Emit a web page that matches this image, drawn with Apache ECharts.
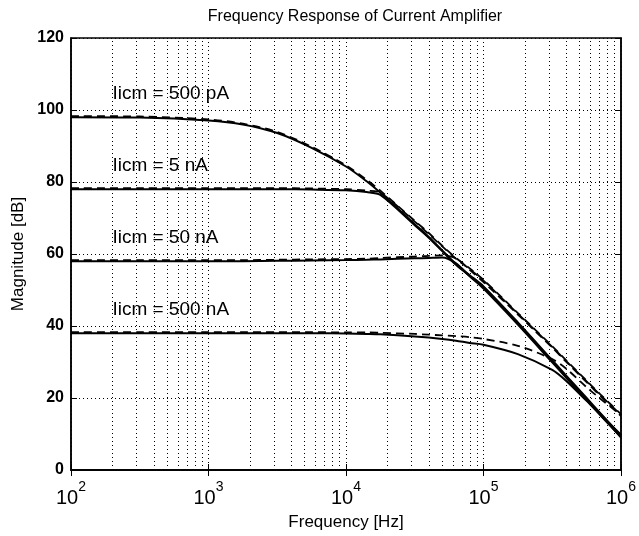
<!DOCTYPE html>
<html>
<head>
<meta charset="utf-8">
<title>Frequency Response of Current Amplifier</title>
<script src="https://cdn.jsdelivr.net/npm/echarts@6/dist/echarts.min.js"></script>
<style>
  * { margin: 0; padding: 0; }
  body { background: #fff; }
  #main { width: 639px; height: 536px; }
</style>
</head>
<body>
<div id="main"></div>
<script>
const freq = [100, 316, 1000, 1778, 3162, 5623, 10000, 14125, 17783, 31623, 39811,
  50119, 63096, 79433, 100000, 177828, 316228, 398107, 562341, 707946, 1000000]

// magnitude [dB], solid = measured, dashed = model
const pA500Solid = [98, 97.9, 97.1, 96.0, 93.6, 89.5, 84.3, 80.2, 77.0, 68.3, 64.8,
  61.0, 57.2, 54.1, 51.0, 41.0, 30.5, 26.3, 20.0, 15.8, 9.5]
const pA500Dash = [98.3, 98.2, 97.4, 96.2, 93.9, 89.8, 84.6, 80.6, 77.6, 69.2, 65.9,
  62.3, 58.9, 56.0, 52.8, 43.6, 34.4, 30.5, 24.8, 21.0, 15.5]
const nA5Solid = [78, 78, 78, 78, 78, 77.9, 77.7, 77.2, 76.4, 68.0, 64.6,
  60.8, 57.0, 53.9, 50.8, 40.7, 30.2, 26.0, 19.7, 15.5, 9.8]
const nA5Dash = [78.3, 78.3, 78.3, 78.3, 78.3, 78.2, 78.0, 77.6, 77.0, 69.0, 65.6,
  62.1, 58.7, 55.8, 52.6, 43.4, 34.2, 30.3, 24.6, 20.8, 15.3]
const nA50Solid = [58, 58, 58, 58, 58.1, 58.2, 58.3, 58.4, 58.5, 58.8, 58.9,
  59.0, 57.4, 53.8, 50.4, 40.4, 29.9, 25.7, 19.4, 15.2, 9.2]
const nA50Dash = [58.3, 58.3, 58.3, 58.3, 58.4, 58.5, 58.6, 58.7, 58.9, 59.3, 59.5,
  59.6, 58.8, 55.6, 52.2, 43.2, 34.0, 30.1, 24.4, 20.6, 15.0]
const nA500Solid = [38, 38, 38, 38, 38, 38, 37.9, 37.8, 37.7, 37.1, 36.8,
  36.4, 35.9, 35.3, 34.8, 32.2, 27.8, 24.8, 19.2, 15.4, 9.0]
const nA500Dash = [38.3, 38.3, 38.3, 38.3, 38.3, 38.3, 38.2, 38.2, 38.1, 37.8, 37.6,
  37.4, 37.2, 36.9, 36.4, 34.5, 30.8, 28.2, 23.0, 19.8, 15.3]

// curve annotations
const labelNames = ['Iicm = 500 pA', 'Iicm = 5 nA', 'Iicm = 50 nA', 'Iicm = 500 nA']
const labelFreq = [200, 200, 200, 200]
const labelDb = [104.5, 84.5, 64.5, 44.5]

const yTicks = [0, 20, 40, 60, 80, 100, 120]

// dotted minor grid at 2..9 x each decade
const minorFreqs = []
for (let d = 100; d < 1e6; d *= 10) {
  for (let k = 2; k <= 9; k++) minorFreqs.push(k * d)
}

const FONT = 'Liberation Sans, Arial, Helvetica, sans-serif'
const dotted = { type: [1, 3], color: '#000', width: 1 }

function pairs (ys) {
  return freq.map((f, i) => [f, ys[i]])
}

function curve (ys, dashed) {
  return {
    type: 'line',
    data: pairs(ys),
    smooth: 0.3,
    symbol: 'none',
    lineStyle: {
      color: '#000',
      width: dashed ? 1.8 : 2,
      type: dashed ? [8, 5] : 'solid'
    },
    z: 3
  }
}

const myChart = echarts.init(document.getElementById('main'))

const option = {
  animation: false,
  backgroundColor: '#fff',
  title: {
    text: 'Frequency Response of Current Amplifier',
    left: 350,
    textAlign: 'center',
    top: 4,
    textStyle: { fontFamily: FONT, fontSize: 16, fontWeight: 'normal', color: '#000' }
  },
  grid: {
    left: 71,
    right: 14,
    top: 38,
    bottom: 62,
    show: true,
    borderColor: '#000',
    borderWidth: 1.5
  },
  xAxis: [{
    type: 'log',
    logBase: 10,
    min: 100,
    max: 1e6,
    name: 'Frequency [Hz]',
    nameLocation: 'middle',
    nameGap: 44,
    nameTextStyle: { fontFamily: FONT, fontSize: 17, color: '#000' },
    axisLine: { show: true, lineStyle: { color: '#000', width: 1.5 } },
    axisTick: { show: true, inside: true, length: 6, lineStyle: { color: '#000' } },
    splitLine: { show: true, lineStyle: dotted },
    axisLabel: {
      margin: 10,
      color: '#000',
      formatter: v => '{b|10}{sup|' + Math.round(Math.log10(v)) + '}',
      rich: {
        b: { fontFamily: FONT, fontSize: 20, color: '#000', verticalAlign: 'bottom' },
        sup: { fontFamily: FONT, fontSize: 14, color: '#000', verticalAlign: 'bottom', padding: [0, 0, 14, 0] }
      }
    }
  }, {
    type: 'log',
    logBase: 10,
    min: 100,
    max: 1e6,
    position: 'top',
    axisLine: { show: true, lineStyle: { color: '#000', width: 1.5 } },
    axisTick: { show: true, inside: true, length: 6, lineStyle: { color: '#000' } },
    axisLabel: { show: false },
    splitLine: { show: false }
  }],
  yAxis: [{
    type: 'value',
    min: 0,
    max: 120,
    interval: 20,
    name: 'Magnitude [dB]',
    nameLocation: 'middle',
    nameGap: 44,
    nameTextStyle: { fontFamily: FONT, fontSize: 17, color: '#000' },
    axisLine: { show: true, lineStyle: { color: '#000', width: 1.5 } },
    axisTick: { show: true, inside: true, length: 6, lineStyle: { color: '#000' } },
    splitLine: { show: true, lineStyle: dotted },
    axisLabel: {
      margin: 7,
      color: '#000',
      fontFamily: FONT,
      fontSize: 16,
      fontWeight: 'bold',
      formatter: v => yTicks.includes(v) ? String(v) : ''
    }
  }, {
    type: 'value',
    min: 0,
    max: 120,
    interval: 20,
    position: 'right',
    axisLine: { show: true, lineStyle: { color: '#000', width: 1.5 } },
    axisTick: { show: true, inside: true, length: 6, lineStyle: { color: '#000' } },
    axisLabel: { show: false },
    splitLine: { show: false }
  }],
  series: [
    Object.assign(curve(pA500Solid, false), {
      markLine: {
        silent: true,
        symbol: 'none',
        animation: false,
        label: { show: false },
        lineStyle: dotted,
        data: minorFreqs.map(f => ({ xAxis: f }))
      }
    }),
    curve(pA500Dash, true),
    curve(nA5Solid, false),
    curve(nA5Dash, true),
    curve(nA50Solid, false),
    curve(nA50Dash, true),
    curve(nA500Solid, false),
    curve(nA500Dash, true),
    {
      type: 'scatter',
      symbolSize: 0,
      silent: true,
      z: 4,
      itemStyle: { opacity: 1 },
      data: labelNames.map((n, i) => ({ name: n, value: [labelFreq[i], labelDb[i]] })),
      label: {
        show: true,
        position: 'right',
        distance: 0,
        formatter: p => p.name,
        fontFamily: FONT,
        fontSize: 19,
        color: '#000'
      }
    }
  ]
}

myChart.setOption(option)
</script>
</body>
</html>
